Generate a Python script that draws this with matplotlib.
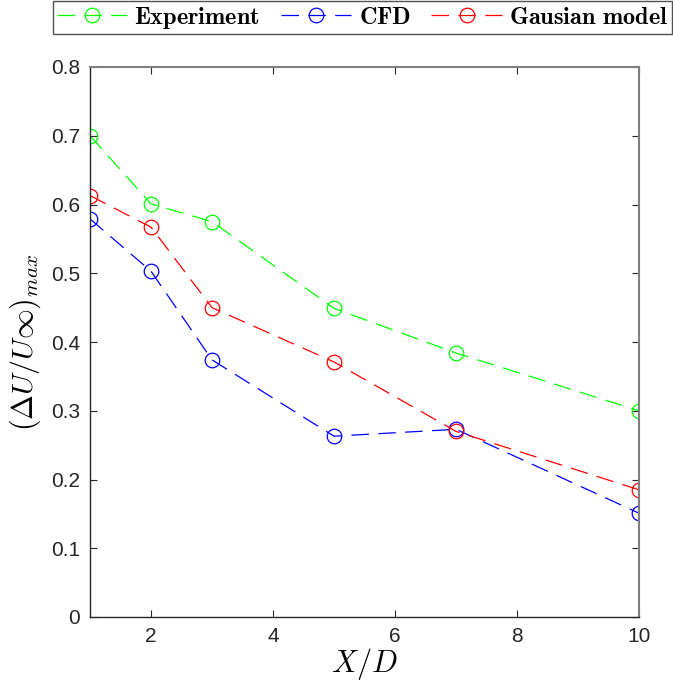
import matplotlib
matplotlib.use("Agg")
import matplotlib.pyplot as plt

x = [1, 2, 3, 5, 7, 10]
experiment = [0.700, 0.601, 0.575, 0.449, 0.384, 0.300]
cfd = [0.579, 0.503, 0.374, 0.263, 0.273, 0.151]
gaussian = [0.613, 0.567, 0.450, 0.371, 0.270, 0.185]
labels = [r'$\mathbf{Experiment}$', r'$\mathbf{CFD}$', r'$\mathbf{Gausian\ model}$']
xticks = [2, 4, 6, 8, 10]
yticks = [0, 0.1, 0.2, 0.3, 0.4, 0.5, 0.6, 0.7, 0.8]

plt.rcParams['mathtext.fontset'] = 'cm'
plt.rcParams['font.family'] = ['Liberation Sans', 'DejaVu Sans']

fig = plt.figure(figsize=(6.73, 6.95), dpi=100)
ax = fig.add_axes([90/673, 1-617/695, 549/673, 550/695])

dash = (0, (14, 7.5))
style = dict(linestyle=dash, linewidth=0.9, marker='o', markersize=10.5,
             markerfacecolor='none', markeredgewidth=0.9)
h1, = ax.plot(x, experiment, color=(0, 1, 0), label=labels[0], **style)
h2, = ax.plot(x, cfd, color=(0, 0, 1), label=labels[1], **style)
h3, = ax.plot(x, gaussian, color=(1, 0, 0), label=labels[2], **style)

ax.set_xlim(1, 10)
ax.set_ylim(0, 0.8)
ax.set_xticks(xticks)
ax.set_yticks(yticks)
ax.set_yticklabels(['0' if v == 0 else f'{v:.1f}' for v in yticks])
ax.tick_params(direction='in', top=True, right=True, length=5, width=0.8,
               labelsize=15, colors=(0.15, 0.15, 0.15), pad=7)
for s in ['left', 'bottom']:
    ax.spines[s].set_color((0.15, 0.15, 0.15))
    ax.spines[s].set_linewidth(1.0)
for s in ['right', 'top']:
    ax.spines[s].set_color((0.5, 0.5, 0.5))
    ax.spines[s].set_linewidth(1.5)
ax.set_xlabel(r'$X/D$', fontsize=22, labelpad=0)
ax.set_ylabel(r'$(\Delta U/U\infty)_{max}$', fontsize=21.5, labelpad=6)

leg = fig.legend(handles=[h1, h2, h3], loc='upper left', ncol=3,
                 bbox_to_anchor=(53/673, 1-1/695), bbox_transform=fig.transFigure,
                 fontsize=17.5, frameon=True, fancybox=False, edgecolor='black',
                 handlelength=2.9, handletextpad=0.3, columnspacing=0.85,
                 borderpad=0.15, borderaxespad=0)
leg.get_frame().set_linewidth(1.0)
leg.get_frame().set_edgecolor((0.15, 0.15, 0.15))

fig.savefig('out.png', dpi=100)
